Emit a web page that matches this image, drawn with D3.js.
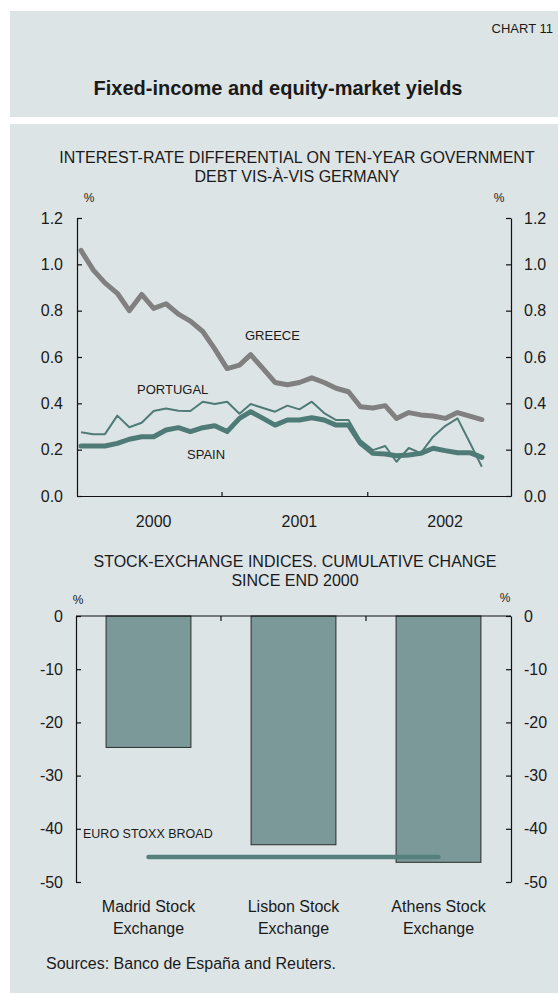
<!DOCTYPE html>
<html lang="en">
<head>
<meta charset="utf-8">
<title>Fixed-income and equity-market yields</title>
<script src="https://d3js.org/d3.v7.min.js"></script>
<style>
  body { margin: 0; background: #fff; }
  svg text { font-family: "Liberation Sans", Arial, sans-serif; fill: #1a1a1a; }
</style>
</head>
<body>
<svg id="chart" width="558" height="994"></svg>
<script>
// monthly observations, Jan 2000 - Oct 2002
const months = ["2000-01","2000-02","2000-03","2000-04","2000-05","2000-06","2000-07","2000-08","2000-09","2000-10","2000-11","2000-12",
                "2001-01","2001-02","2001-03","2001-04","2001-05","2001-06","2001-07","2001-08","2001-09","2001-10","2001-11","2001-12",
                "2002-01","2002-02","2002-03","2002-04","2002-05","2002-06","2002-07","2002-08","2002-09","2002-10"];
const greece   = [1.06,0.975,0.92,0.875,0.80,0.87,0.81,0.83,0.785,0.755,0.71,0.635,
                  0.55,0.565,0.61,0.55,0.49,0.48,0.49,0.51,0.49,0.465,0.45,0.385,
                  0.38,0.39,0.335,0.36,0.35,0.345,0.335,0.36,0.345,0.33];
const portugal = [0.275,0.267,0.267,0.347,0.297,0.316,0.367,0.378,0.368,0.367,0.407,0.397,
                  0.407,0.355,0.397,0.38,0.364,0.39,0.374,0.407,0.358,0.328,0.328,0.24,
                  0.198,0.216,0.148,0.207,0.185,0.256,0.302,0.335,0.23,0.126];
const spain    = [0.216,0.216,0.216,0.227,0.245,0.256,0.256,0.285,0.295,0.278,0.295,0.303,
                  0.278,0.335,0.364,0.335,0.306,0.328,0.328,0.338,0.328,0.306,0.306,0.227,
                  0.184,0.181,0.174,0.177,0.184,0.206,0.196,0.187,0.187,0.167];
const yieldTicks = [0, 0.2, 0.4, 0.6, 0.8, 1.0, 1.2];
const years = [2000, 2001, 2002];

const exchanges = [["Madrid Stock", "Exchange"], ["Lisbon Stock", "Exchange"], ["Athens Stock", "Exchange"]];
const stockChange = [-24.7, -43.0, -46.3];
const euroStoxx = -45.3;
const stockTicks = [0, -10, -20, -30, -40, -50];

const bg = "#dde4e6";
const teal = "#4f7b77";

const svg = d3.select("#chart");

// panels
svg.append("rect").attr("x", 10).attr("y", 11).attr("width", 548).attr("height", 106).attr("fill", bg);
svg.append("rect").attr("x", 10).attr("y", 124).attr("width", 548).attr("height", 869).attr("fill", bg);

svg.append("text").attr("x", 553).attr("y", 33).attr("text-anchor", "end")
  .style("font-size", "13px").text("CHART  11");
svg.append("text").attr("x", 278).attr("y", 95).attr("text-anchor", "middle")
  .style("font-size", "20px").style("font-weight", "bold").text("Fixed-income and equity-market yields");

/* ---------- top chart: interest-rate differential ---------- */
const parse = d3.timeParse("%Y-%m");
const dates = months.map(m => d3.timeDay.offset(parse(m), 14));

const x = d3.scaleTime()
  .domain([new Date(2000, 0, 5), new Date(2002, 11, 27)])
  .range([77, 511]);
const y = d3.scaleLinear().domain([0, 1.2]).range([496, 218]);

svg.append("text").attr("x", 297).attr("y", 163).attr("text-anchor", "middle")
  .style("font-size", "16px").text("INTEREST-RATE DIFFERENTIAL ON TEN-YEAR GOVERNMENT");
svg.append("text").attr("x", 297).attr("y", 182).attr("text-anchor", "middle")
  .style("font-size", "16px").text("DEBT VIS-À-VIS GERMANY");
svg.append("text").attr("x", 89).attr("y", 202).attr("text-anchor", "middle").style("font-size", "12px").text("%");
svg.append("text").attr("x", 499).attr("y", 202).attr("text-anchor", "middle").style("font-size", "12px").text("%");

function styleAxis(g) {
  g.selectAll("path, line").attr("stroke", "#111").attr("stroke-width", 1.2);
  g.selectAll("text").style("font-size", "16px").attr("fill", "#1a1a1a");
}

svg.append("g").attr("transform", "translate(77,0)")
  .call(d3.axisLeft(y).tickValues(yieldTicks).tickFormat(d3.format(".1f"))
    .tickSizeInner(-5).tickSizeOuter(0).tickPadding(14))
  .call(styleAxis);
svg.append("g").attr("transform", "translate(511,0)")
  .call(d3.axisRight(y).tickValues(yieldTicks).tickFormat(d3.format(".1f"))
    .tickSizeInner(-5).tickSizeOuter(0).tickPadding(13))
  .call(styleAxis);
svg.append("g").attr("transform", "translate(0,496)")
  .call(d3.axisBottom(x).tickValues([new Date(2001, 0, 1), new Date(2002, 0, 1)])
    .tickFormat("").tickSizeInner(-4).tickSizeOuter(0))
  .call(styleAxis);

svg.selectAll(".year").data(years).enter().append("text")
  .attr("class", "year")
  .attr("x", d => x(new Date(d, 6, 15)))
  .attr("y", 527)
  .attr("text-anchor", "middle")
  .style("font-size", "16px")
  .text(d => d);

const line = d3.line().x((d, i) => x(dates[i])).y(d => y(d));

svg.append("path").datum(greece).attr("d", line)
  .attr("fill", "none").attr("stroke", "#808080").attr("stroke-width", 5).attr("stroke-linejoin", "round").attr("stroke-linecap", "round");
svg.append("path").datum(spain).attr("d", line)
  .attr("fill", "none").attr("stroke", teal).attr("stroke-width", 5).attr("stroke-linejoin", "round").attr("stroke-linecap", "round");
svg.append("path").datum(portugal).attr("d", line)
  .attr("fill", "none").attr("stroke", teal).attr("stroke-width", 2).attr("stroke-linejoin", "round");

svg.append("text").attr("x", 245).attr("y", 340).style("font-size", "13px").text("GREECE");
svg.append("text").attr("x", 137).attr("y", 394).style("font-size", "13px").text("PORTUGAL");
svg.append("text").attr("x", 187).attr("y", 459).style("font-size", "13px").text("SPAIN");

/* ---------- bottom chart: stock exchange indices ---------- */
const xb = d3.scaleBand().domain(d3.range(exchanges.length))
  .range([76, 511]).paddingInner(0.415).paddingOuter(0.2075);
const yb = d3.scaleLinear().domain([-50, 0]).range([882, 616]);

svg.append("text").attr("x", 295).attr("y", 567).attr("text-anchor", "middle")
  .style("font-size", "16px").text("STOCK-EXCHANGE INDICES. CUMULATIVE CHANGE");
svg.append("text").attr("x", 295).attr("y", 586).attr("text-anchor", "middle")
  .style("font-size", "16px").text("SINCE END 2000");
svg.append("text").attr("x", 78).attr("y", 604).attr("text-anchor", "middle").style("font-size", "12px").text("%");
svg.append("text").attr("x", 505).attr("y", 602).attr("text-anchor", "middle").style("font-size", "12px").text("%");

svg.selectAll(".bar").data(stockChange).enter().append("rect")
  .attr("class", "bar")
  .attr("x", (d, i) => xb(i))
  .attr("width", xb.bandwidth())
  .attr("y", yb(0))
  .attr("height", d => yb(d) - yb(0))
  .attr("fill", "#7b9999")
  .attr("stroke", "#2b2b2b")
  .attr("stroke-width", 1);

svg.append("g").attr("transform", "translate(76,0)")
  .call(d3.axisLeft(yb).tickValues(stockTicks).tickFormat(d => String(d))
    .tickSizeInner(-5).tickSizeOuter(0).tickPadding(13))
  .call(styleAxis);
svg.append("g").attr("transform", "translate(511,0)")
  .call(d3.axisRight(yb).tickValues(stockTicks).tickFormat(d => String(d))
    .tickSizeInner(-5).tickSizeOuter(0).tickPadding(13))
  .call(styleAxis);

// category boundary ticks along the zero line
const boundaries = d3.range(1, exchanges.length).map(i => xb(i) - xb.step() * xb.paddingInner() / 2);
svg.append("line").attr("x1", 76).attr("x2", 511).attr("y1", yb(0)).attr("y2", yb(0))
  .attr("stroke", "#111").attr("stroke-width", 1.2);
svg.selectAll(".btick").data(boundaries).enter().append("line")
  .attr("x1", d => d).attr("x2", d => d)
  .attr("y1", yb(0)).attr("y2", yb(0) + 5)
  .attr("stroke", "#111").attr("stroke-width", 1.2);

// EURO STOXX BROAD reference line
svg.append("line")
  .attr("x1", xb(0) + xb.bandwidth() / 2).attr("x2", xb(2) + xb.bandwidth() / 2)
  .attr("y1", yb(euroStoxx)).attr("y2", yb(euroStoxx))
  .attr("stroke", "#56807c").attr("stroke-width", 4.5).attr("stroke-linecap", "round");
svg.append("text").attr("x", 83).attr("y", 838).style("font-size", "12.5px").text("EURO STOXX BROAD");

const cat = svg.selectAll(".cat").data(exchanges).enter().append("text")
  .attr("class", "cat")
  .attr("text-anchor", "middle")
  .style("font-size", "16px");
cat.selectAll("tspan").data((d, i) => d.map(s => ({s: s, i: i}))).enter().append("tspan")
  .attr("x", d => xb(d.i) + xb.bandwidth() / 2)
  .attr("y", (d, j) => 912 + j * 22)
  .text(d => d.s);

svg.append("text").attr("x", 46).attr("y", 969).style("font-size", "16px")
  .text("Sources: Banco de España and Reuters.");
</script>
</body>
</html>
